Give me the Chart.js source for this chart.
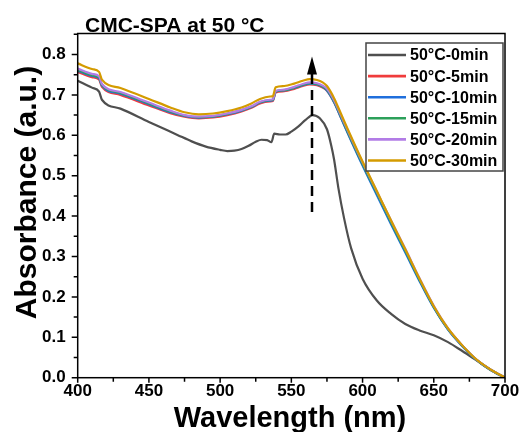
<!DOCTYPE html>
<html>
<head>
<meta charset="utf-8">
<script src="https://cdn.jsdelivr.net/npm/chart.js@4.4.0/dist/chart.umd.min.js"></script>
<style>
  html, body { margin: 0; padding: 0; background: #fff; }
  #wrap { width: 525px; height: 432px; }
</style>
</head>
<body>
<div id="wrap"><canvas id="uvvis" width="525" height="432"></canvas></div>
<script>
// UV-vis spectra, CMC-SPA held at 50 °C

var FONT = 'Arial, "Liberation Sans", sans-serif';

// 0 min spectrum has its own sampling
var wlStart = [400, 410, 415, 417, 430, 450, 470, 480, 490, 500, 505, 510, 515, 520, 525, 529, 533, 536, 538, 542, 546, 550, 555, 560, 565, 570, 575, 578, 580, 583, 587, 592, 600, 610, 620, 630, 640, 650, 660, 670, 680, 690, 700];
var abs0 = [0.735, 0.718, 0.708, 0.688, 0.666, 0.633, 0.601, 0.585, 0.572, 0.564, 0.561, 0.562, 0.566, 0.574, 0.584, 0.589, 0.588, 0.583, 0.604, 0.602, 0.602, 0.609, 0.622, 0.638, 0.650, 0.642, 0.615, 0.575, 0.540, 0.470, 0.395, 0.320, 0.245, 0.191, 0.158, 0.133, 0.117, 0.105, 0.088, 0.066, 0.043, 0.020, 0.000];

// heated spectra
var wlHeated = [400, 410, 415, 417, 430, 450, 465, 475, 485, 495, 505, 515, 522, 528, 535, 537, 539, 545, 552, 558, 563, 568, 572, 575, 580, 585, 590, 600, 610, 620, 630, 640, 650, 660, 670, 680, 690, 700];
var abs5 = [0.757, 0.744, 0.738, 0.720, 0.700, 0.674, 0.655, 0.646, 0.642, 0.644, 0.650, 0.659, 0.668, 0.679, 0.684, 0.685, 0.706, 0.709, 0.715, 0.722, 0.726, 0.724, 0.718, 0.710, 0.682, 0.643, 0.604, 0.528, 0.456, 0.384, 0.314, 0.242, 0.175, 0.120, 0.079, 0.044, 0.019, 0.000];
var abs10 = [0.760, 0.747, 0.741, 0.723, 0.703, 0.677, 0.657, 0.648, 0.644, 0.646, 0.652, 0.661, 0.670, 0.681, 0.686, 0.687, 0.708, 0.711, 0.717, 0.724, 0.728, 0.726, 0.720, 0.711, 0.682, 0.642, 0.602, 0.525, 0.452, 0.380, 0.310, 0.239, 0.173, 0.119, 0.078, 0.044, 0.019, 0.000];
var abs15 = [0.762, 0.749, 0.743, 0.725, 0.705, 0.679, 0.659, 0.649, 0.645, 0.647, 0.653, 0.662, 0.671, 0.682, 0.687, 0.688, 0.709, 0.712, 0.718, 0.725, 0.729, 0.727, 0.721, 0.713, 0.684, 0.645, 0.605, 0.529, 0.457, 0.384, 0.314, 0.242, 0.175, 0.120, 0.079, 0.044, 0.019, 0.000];
var abs20 = [0.765, 0.752, 0.746, 0.727, 0.707, 0.681, 0.661, 0.650, 0.646, 0.648, 0.654, 0.663, 0.672, 0.683, 0.688, 0.689, 0.710, 0.713, 0.720, 0.727, 0.731, 0.729, 0.723, 0.715, 0.687, 0.648, 0.609, 0.533, 0.461, 0.389, 0.319, 0.246, 0.178, 0.122, 0.080, 0.045, 0.020, 0.000];
var abs30 = [0.778, 0.764, 0.757, 0.738, 0.717, 0.690, 0.669, 0.657, 0.652, 0.654, 0.660, 0.669, 0.679, 0.690, 0.696, 0.697, 0.719, 0.722, 0.728, 0.735, 0.739, 0.737, 0.731, 0.722, 0.692, 0.652, 0.612, 0.535, 0.462, 0.389, 0.318, 0.245, 0.177, 0.122, 0.080, 0.045, 0.020, 0.000];

var seriesLabels = ['50°C-0min', '50°C-5min', '50°C-10min', '50°C-15min', '50°C-20min', '50°C-30min'];
var seriesColors = ['#4f4f4f', '#f03c3c', '#1f6fdc', '#2ca05a', '#b27ce6', '#d49b00'];
var seriesX = [wlStart, wlHeated, wlHeated, wlHeated, wlHeated, wlHeated];
var seriesY = [abs0, abs5, abs10, abs15, abs20, abs30];

var xTicks = [400, 450, 500, 550, 600, 650, 700];
var yTicks = [0.0, 0.1, 0.2, 0.3, 0.4, 0.5, 0.6, 0.7, 0.8];

var chartTitle = 'CMC-SPA at 50 °C';
var xTitle = 'Wavelength (nm)';
var yTitle = 'Absorbance (a.u.)';

// arrow marking the growth of the ~565 nm band
var arrowNm = 564.5;
var arrowFrom = 0.41;
var arrowTo = 0.795;

function toPoints(xs, ys) {
    var pts = [];
    for (var i = 0; i < xs.length; i++) {
        pts.push({x: xs[i], y: ys[i]});
    }
    return pts;
}

var datasets = [];
for (var i = 0; i < seriesLabels.length; i++) {
    datasets.push({
        label: seriesLabels[i],
        data: toPoints(seriesX[i], seriesY[i]),
        borderColor: seriesColors[i],
        backgroundColor: seriesColors[i],
        borderWidth: 2.2,
        pointRadius: 0,
        cubicInterpolationMode: 'monotone',
        fill: false,
        order: seriesLabels.length - i   // later spectra drawn on top
    });
}

var decor = {
    id: 'decor',
    afterDatasetsDraw: function (chart) {
        var ctx = chart.ctx;
        var area = chart.chartArea;
        var xs = chart.scales.x, ys = chart.scales.y;
        ctx.save();

        // frame
        ctx.strokeStyle = '#000';
        ctx.lineWidth = 1.5;
        ctx.strokeRect(area.left, area.top, area.right - area.left, area.bottom - area.top);

        // outward ticks, majors and minors
        ctx.beginPath();
        for (var v = 400; v <= 700; v += 25) {
            var px = xs.getPixelForValue(v);
            var len = (v % 50 === 0) ? 5 : 4;
            ctx.moveTo(px, area.bottom);
            ctx.lineTo(px, area.bottom + len);
        }
        for (var k = 0; k <= 17; k++) {
            var py = ys.getPixelForValue(k * 0.05);
            var ylen = (k % 2 === 0) ? 6 : 4;
            ctx.moveTo(area.left, py);
            ctx.lineTo(area.left - ylen, py);
        }
        ctx.stroke();

        // dashed arrow
        var ax = xs.getPixelForValue(arrowNm);
        var tip = ys.getPixelForValue(arrowTo);
        var base = ys.getPixelForValue(arrowFrom);
        ctx.setLineDash([10, 6]);
        ctx.lineWidth = 2.5;
        ctx.beginPath();
        ctx.moveTo(ax, base);
        ctx.lineTo(ax, tip + 16);
        ctx.stroke();
        ctx.setLineDash([]);
        ctx.fillStyle = '#000';
        ctx.beginPath();
        ctx.moveTo(ax, tip);
        ctx.lineTo(ax - 5, tip + 18);
        ctx.lineTo(ax + 5, tip + 18);
        ctx.closePath();
        ctx.fill();

        // legend box
        var lx = 366, ly = 43, lw = 137, lh = 128;
        ctx.fillStyle = '#fff';
        ctx.fillRect(lx, ly, lw, lh);
        ctx.strokeStyle = '#444';
        ctx.lineWidth = 1.5;
        ctx.strokeRect(lx, ly, lw, lh);
        ctx.font = 'bold 16px ' + FONT;
        ctx.textBaseline = 'middle';
        ctx.textAlign = 'left';
        chart.data.datasets.forEach(function (ds, idx) {
            var rowY = 55 + idx * 21.1;
            ctx.strokeStyle = ds.borderColor;
            ctx.lineWidth = 2.6;
            ctx.beginPath();
            ctx.moveTo(368, rowY);
            ctx.lineTo(406, rowY);
            ctx.stroke();
            ctx.fillStyle = '#000';
            ctx.fillText(ds.label, 410, rowY + 1);
        });

        // titles
        ctx.fillStyle = '#000';
        ctx.textBaseline = 'alphabetic';
        ctx.font = 'bold 21px ' + FONT;
        ctx.textAlign = 'left';
        ctx.fillText(chartTitle, 85, 31.7);

        ctx.font = 'bold 29px ' + FONT;
        ctx.textAlign = 'center';
        ctx.fillText(xTitle, 290, 426.7);

        ctx.translate(35.5, 192.5);
        ctx.rotate(-Math.PI / 2);
        ctx.font = 'bold 30px ' + FONT;
        ctx.fillText(yTitle, 0, 0);

        ctx.restore();
    }
};

new Chart(document.getElementById('uvvis'), {
    type: 'line',
    data: {datasets: datasets},
    options: {
        responsive: false,
        animation: false,
        layout: {padding: {left: 0, right: 20, top: 33.5, bottom: 0}},
        plugins: {
            legend: {display: false},
            title: {display: false},
            tooltip: {enabled: false}
        },
        scales: {
            x: {
                type: 'linear',
                min: 400,
                max: 700,
                grid: {display: false, drawTicks: false},
                border: {display: false},
                afterBuildTicks: function (scale) {
                    scale.ticks = xTicks.map(function (v) { return {value: v}; });
                },
                afterFit: function (scale) { scale.height = 54.3; },
                ticks: {
                    padding: 3.5,
                    color: '#000',
                    font: {family: FONT, size: 17, weight: 'bold'},
                    maxRotation: 0,
                    callback: function (v) { return v; }
                }
            },
            y: {
                type: 'linear',
                min: 0,
                max: 0.852,
                grid: {display: false, drawTicks: false},
                border: {display: false},
                afterBuildTicks: function (scale) {
                    scale.ticks = yTicks.map(function (v) { return {value: v}; });
                },
                afterFit: function (scale) { scale.width = 77.7; },
                ticks: {
                    padding: 12,
                    color: '#000',
                    font: {family: FONT, size: 17, weight: 'bold'},
                    callback: function (v) { return Number(v).toFixed(1); }
                }
            }
        }
    },
    plugins: [decor]
});
</script>
</body>
</html>
